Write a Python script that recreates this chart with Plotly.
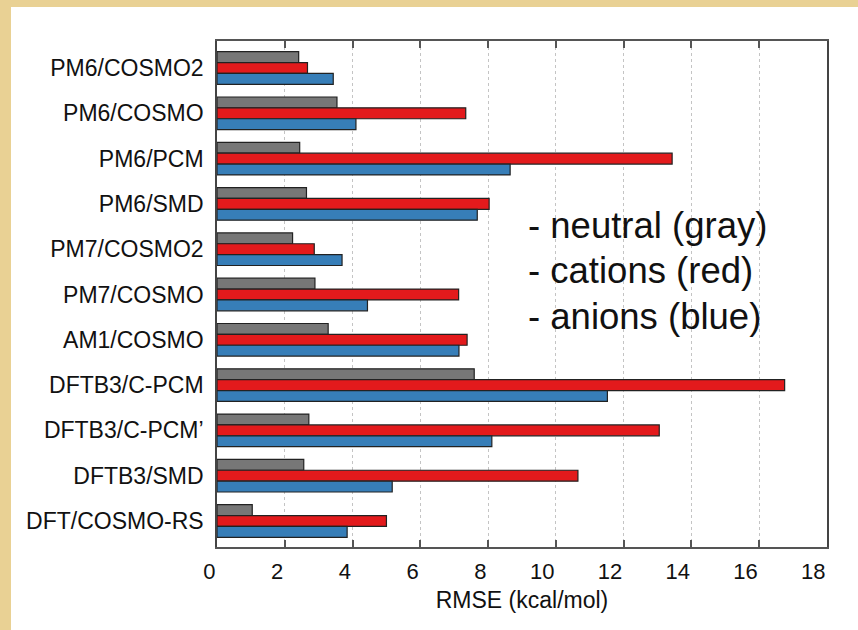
import plotly.graph_objects as go

# Solvation models and their RMSE (kcal/mol) for each charge class
methods = [
    "PM6/COSMO2", "PM6/COSMO", "PM6/PCM", "PM6/SMD", "PM7/COSMO2",
    "PM7/COSMO", "AM1/COSMO", "DFTB3/C-PCM", "DFTB3/C-PCM\u2019",
    "DFTB3/SMD", "DFT/COSMO-RS",
]
neutral = [2.41, 3.54, 2.44, 2.64, 2.23, 2.89, 3.28, 7.59, 2.71, 2.56, 1.04]
cations = [2.67, 7.34, 13.43, 8.03, 2.87, 7.13, 7.38, 16.75, 13.05, 10.65, 5.00]
anions = [3.43, 4.10, 8.65, 7.68, 3.69, 4.44, 7.14, 11.52, 8.11, 5.17, 3.84]
x_ticks = list(range(0, 19, 2))
legend_lines = ["- neutral (gray)", "- cations (red)", "- anions (blue)"]

FONT = "Liberation Sans, Arial, Helvetica, sans-serif"
W, H = 858, 630
L, R, T, B = 217, 31, 41, 83
PW, PH = W - L - R, H - T - B


def px_x(p):
    return (p - L) / PW


def px_y(p):
    return (H - B - p) / PH


fig = go.Figure()
for name, vals, color in [
    ("neutral", neutral, "#777777"),
    ("cations", cations, "#E31A1C"),
    ("anions", anions, "#377EB8"),
]:
    fig.add_trace(go.Bar(
        y=methods, x=vals, orientation="h", name=name,
        marker=dict(color=color, line=dict(color="#222222", width=1.2)),
    ))

# white card over the parchment page
fig.add_shape(type="rect", xref="paper", yref="paper",
              x0=px_x(11), x1=px_x(W + 10), y0=px_y(H + 10), y1=px_y(7),
              fillcolor="white", line=dict(width=0), layer="below")

for i, txt in enumerate(legend_lines):
    fig.add_annotation(
        text=txt, xref="paper", yref="paper",
        x=px_x(526), y=px_y(225 + 45.5 * i),
        xanchor="left", yanchor="middle", showarrow=False,
        font=dict(family=FONT, size=36.5, color="#111111"),
    )

fig.update_layout(
    width=W, height=H,
    margin=dict(l=L, r=R, t=T, b=B),
    paper_bgcolor="#E9D194",
    plot_bgcolor="white",
    barmode="group", bargap=0.28, bargroupgap=0,
    showlegend=False,
    font=dict(family=FONT, color="#111111"),
)
fig.update_xaxes(
    range=[0, 18], tickvals=x_ticks, ticktext=[str(v) for v in x_ticks],
    ticks="inside", ticklen=7, tickwidth=1.5, tickcolor="#555555",
    showline=True, linecolor="#555555", linewidth=1.5, mirror="ticks",
    showgrid=True, gridcolor="#c4c4c4", gridwidth=1, griddash="3px,3px",
    zeroline=False, ticklabelposition="outside left", ticklabelstandoff=4,
    tickfont=dict(family=FONT, size=22, color="#111111"),
    title=dict(text="RMSE (kcal/mol)", font=dict(family=FONT, size=23, color="#111111"), standoff=9),
)
fig.update_yaxes(
    type="category", range=[10.574, -0.596],
    showline=True, linecolor="#444444", linewidth=1.5, mirror=True,
    showgrid=False, zeroline=False, ticks="",
    ticklabelstandoff=7,
    tickfont=dict(family=FONT, size=23, color="#111111"),
)

fig.write_html("out.html")
